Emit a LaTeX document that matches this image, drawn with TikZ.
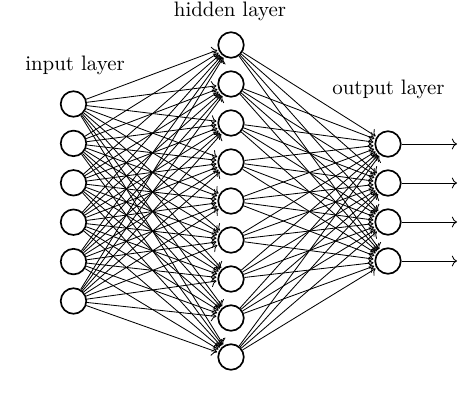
\documentclass[tikz,border=0pt]{standalone}
\usepackage{tikz}
\usetikzlibrary{arrows.meta}
\tikzset{
  neuron/.style={circle, draw=black, thick, minimum size=12.2pt, inner sep=0pt, fill=white},
  synapse/.style={->, thin, shorten >=0.5pt},
  outarrow/.style={->, thin},
  layerlabel/.style={font=\normalsize, anchor=center},
}

\begin{document}
\begin{tikzpicture}[x=0.478pt, y=-0.478pt]
\useasboundingbox (0,0) rectangle (458,406);

% layers
\foreach \i in {1,...,6}
  \node[neuron] (inp-\i) at (73.5, {104+39.4*(\i-1)}) {};
\foreach \i in {1,...,9}
  \node[neuron] (hid-\i) at (231, {45+39.0*(\i-1)}) {};
\foreach \i in {1,...,4}
  \node[neuron] (out-\i) at (388, {144+39.0*(\i-1)}) {};

% connections
\foreach \s in {1,...,6}
  \foreach \t in {1,...,9}
    \draw[synapse] (inp-\s) -- (hid-\t);
\foreach \s in {1,...,9}
  \foreach \t in {1,...,4}
    \draw[synapse] (hid-\s) -- (out-\t);

% outputs
\foreach \i in {1,...,4} {
  \coordinate (end-\i) at (457, {144+39.0*(\i-1)});
  \draw[outarrow] (out-\i) -- (end-\i);
}

\node[layerlabel] (inlabel) at (75, 65) {input layer};
\node[layerlabel] (hidlabel) at (230, 11) {hidden layer};
\node[layerlabel] (outlabel) at (388.5, 89) {output layer};
\end{tikzpicture}
\end{document}
